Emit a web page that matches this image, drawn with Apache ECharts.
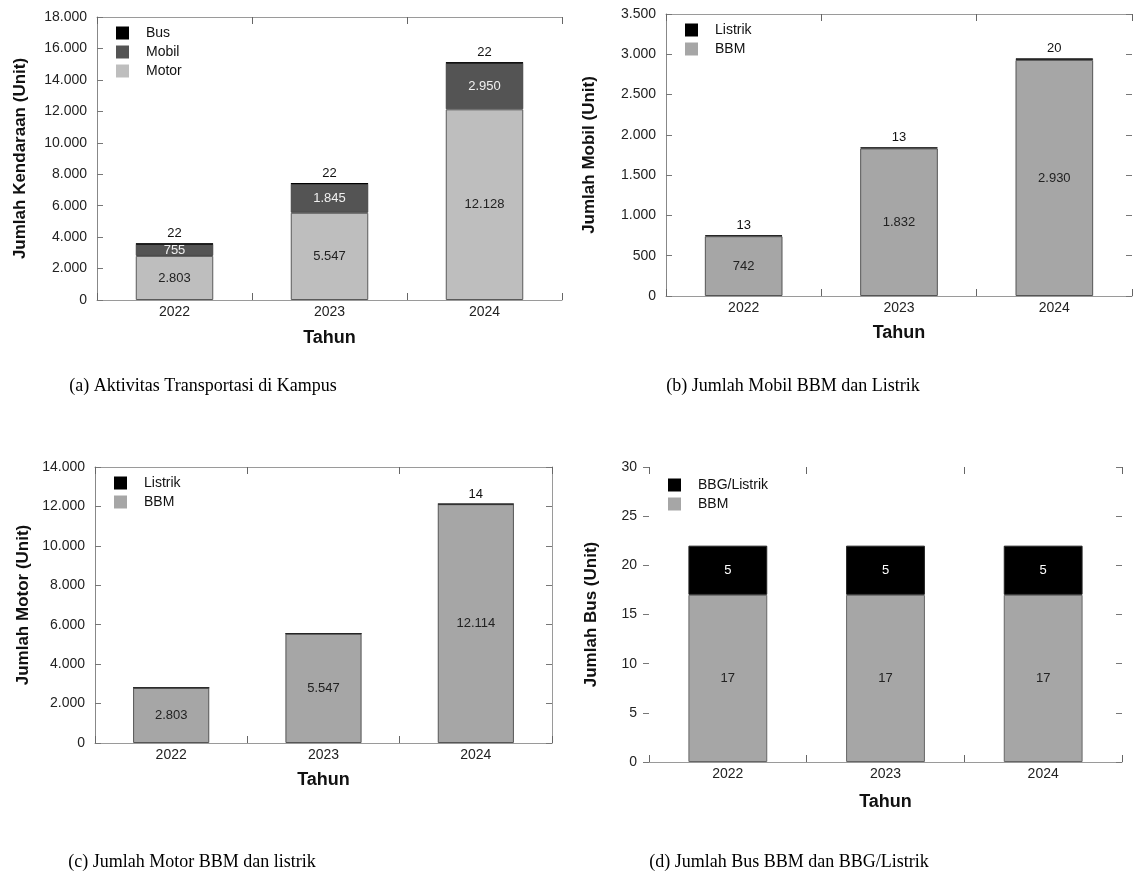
<!DOCTYPE html>
<html>
<head>
<meta charset="utf-8">
<script src="https://cdn.jsdelivr.net/npm/echarts@6/dist/echarts.min.js"></script>
<style>
  html, body { margin: 0; padding: 0; background: #fff; }
  #chart { width: 1134px; height: 886px; }
</style>
</head>
<body>
<div id="chart"></div>
<script>
// data
var years = ['2022', '2023', '2024'];
// (a) semua kendaraan
var motorAll = [2803, 5547, 12128];
var mobilAll = [755, 1845, 2950];
var busAll = [22, 22, 22];
// (b) mobil
var mobilBBM = [742, 1832, 2930];
var mobilListrik = [13, 13, 20];
// (c) motor
var motorBBM = [2803, 5547, 12114];
var motorListrik = [0, 0, 14];
// (d) bus
var busBBM = [17, 17, 17];
var busBBG = [5, 5, 5];

var captions = [
    '(a) Aktivitas Transportasi di Kampus',
    '(b) Jumlah Mobil BBM dan Listrik',
    '(c) Jumlah Motor BBM dan listrik',
    '(d) Jumlah Bus BBM dan BBG/Listrik'
];

var FONT = '"Liberation Sans", Arial, sans-serif';

function fmt(v) {
    return String(v).replace(/\B(?=(\d{3})+(?!\d))/g, '.');
}

var chart = echarts.init(document.getElementById('chart'));

/* panel layout */
var panels = [
    {left: 97, top: 17, width: 465, height: 283, max: 18000, interval: 2000,
        yName: 'Jumlah Kendaraan (Unit)', yGap: 68, xGap: 29,
        topLine: true, leftLine: true, rightLine: false, rightTicks: false, tickOut: false},
    {left: 666, top: 14, width: 466, height: 282, max: 3500, interval: 500,
        yName: 'Jumlah Mobil (Unit)', yGap: 68, xGap: 28,
        topLine: true, leftLine: true, rightLine: false, rightTicks: true, tickOut: false},
    {left: 95, top: 467, width: 457, height: 276, max: 14000, interval: 2000,
        yName: 'Jumlah Motor (Unit)', yGap: 63, xGap: 28,
        topLine: true, leftLine: true, rightLine: true, rightTicks: true, tickOut: false},
    {left: 649, top: 467, width: 473, height: 295, max: 30, interval: 5,
        yName: 'Jumlah Bus (Unit)', yGap: 49, xGap: 31,
        topLine: false, leftLine: false, rightLine: false, rightTicks: true, tickOut: true}
];

var grids = [], xAxes = [], yAxes = [];
panels.forEach(function (p, i) {
    grids.push({left: p.left, top: p.top, width: p.width, height: p.height});
    xAxes.push({
        gridIndex: i, type: 'category', data: years, position: 'bottom',
        axisLine: {show: true, onZero: false, lineStyle: {color: '#9a9a9a', width: 1}},
        axisTick: {show: true, inside: true, length: 7, lineStyle: {color: '#666'}},
        axisLabel: {color: '#222', fontSize: 14, margin: 5, fontFamily: FONT},
        name: 'Tahun', nameLocation: 'middle', nameGap: p.xGap,
        nameTextStyle: {fontWeight: 'bold', fontSize: 18, color: '#111', fontFamily: FONT}
    });
    // frame line on top
    xAxes.push({
        gridIndex: i, type: 'category', data: years, position: 'top',
        axisLine: {show: p.topLine, onZero: false, lineStyle: {color: '#9a9a9a'}},
        axisTick: {show: true, inside: true, length: 7, lineStyle: {color: '#666'}},
        axisLabel: {show: false}
    });
    yAxes.push({
        gridIndex: i, type: 'value', min: 0, max: p.max, interval: p.interval, position: 'left',
        axisLine: {show: p.leftLine, onZero: false, lineStyle: {color: '#888'}},
        axisTick: {show: true, inside: !p.tickOut, length: 6, lineStyle: {color: '#777'}},
        splitLine: {show: false},
        axisLabel: {color: '#222', fontSize: 14, margin: p.tickOut ? 12 : 10, fontFamily: FONT,
            formatter: function (v) { return fmt(v); }},
        name: p.yName, nameLocation: 'middle', nameGap: p.yGap, nameRotate: 90,
        nameTextStyle: {fontWeight: 'bold', fontSize: 17, color: '#111', fontFamily: FONT}
    });
    yAxes.push({
        gridIndex: i, type: 'value', min: 0, max: p.max, interval: p.interval, position: 'right',
        axisLine: {show: p.rightLine, onZero: false, lineStyle: {color: '#9a9a9a'}},
        axisTick: {show: p.rightTicks, inside: true, length: 6, lineStyle: {color: '#777'}},
        splitLine: {show: false},
        axisLabel: {show: false}
    });
});

function insideLabel(color) {
    return {
        show: true, position: 'inside', color: color, fontSize: 13, fontFamily: FONT,
        formatter: function (p) { return p.value ? fmt(p.value) : ''; }
    };
}
function topLabel() {
    return {
        show: true, position: 'top', distance: 3, color: '#111', fontSize: 13, fontFamily: FONT,
        formatter: function (p) { return p.value ? fmt(p.value) : ''; }
    };
}
function bar(name, data, gi, stack, color, border, label) {
    return {
        name: name, type: 'bar', data: data, xAxisIndex: gi * 2, yAxisIndex: gi * 2,
        stack: stack, barWidth: '50%',
        itemStyle: {color: color, borderColor: border, borderWidth: 1},
        label: label, emphasis: {disabled: true}
    };
}

var series = [
    bar('Motor', motorAll, 0, 'a', '#bebebe', '#5a5a5a', insideLabel('#222')),
    bar('Mobil', mobilAll, 0, 'a', '#545454', '#454545', insideLabel('#f0f0f0')),
    bar('Bus', busAll, 0, 'a', '#000', '#000', topLabel()),

    bar('BBM', mobilBBM, 1, 'b', '#a6a6a6', '#555', insideLabel('#222')),
    bar('Listrik', mobilListrik, 1, 'b', '#000', '#222', topLabel()),

    bar('BBM', motorBBM, 2, 'c', '#a6a6a6', '#555', insideLabel('#222')),
    bar('Listrik', motorListrik, 2, 'c', '#000', '#222', topLabel()),

    bar('BBM', busBBM, 3, 'd', '#a6a6a6', '#666', insideLabel('#222')),
    bar('BBG/Listrik', busBBG, 3, 'd', '#000', '#222', insideLabel('#fff'))
];

function legendAt(left, top, names) {
    return {
        orient: 'vertical', left: left, top: top, data: names, padding: 0,
        itemWidth: 13, itemHeight: 13, itemGap: 5, icon: 'rect', selectedMode: false,
        itemStyle: {borderWidth: 0},
        textStyle: {fontSize: 14, color: '#111', fontFamily: FONT, padding: [0, 0, 0, 12]}
    };
}

var option = {
    backgroundColor: '#fff',
    animation: false,
    grid: grids,
    xAxis: xAxes,
    yAxis: yAxes,
    legend: [
        legendAt(116, 26, ['Bus', 'Mobil', 'Motor']),
        legendAt(685, 23, ['Listrik', 'BBM']),
        legendAt(114, 476, ['Listrik', 'BBM']),
        legendAt(668, 478, ['BBG/Listrik', 'BBM'])
    ],
    graphic: [
        {type: 'text', x: 203, y: 386, style: {text: captions[0], align: 'center', verticalAlign: 'middle', fontSize: 18, fontFamily: '"Liberation Serif", serif', fill: '#000'}},
        {type: 'text', x: 793, y: 386, style: {text: captions[1], align: 'center', verticalAlign: 'middle', fontSize: 18, fontFamily: '"Liberation Serif", serif', fill: '#000'}},
        {type: 'text', x: 192, y: 862, style: {text: captions[2], align: 'center', verticalAlign: 'middle', fontSize: 18, fontFamily: '"Liberation Serif", serif', fill: '#000'}},
        {type: 'text', x: 789, y: 862, style: {text: captions[3], align: 'center', verticalAlign: 'middle', fontSize: 18, fontFamily: '"Liberation Serif", serif', fill: '#000'}}
    ],
    series: series
};
chart.setOption(option);
</script>
</body>
</html>
